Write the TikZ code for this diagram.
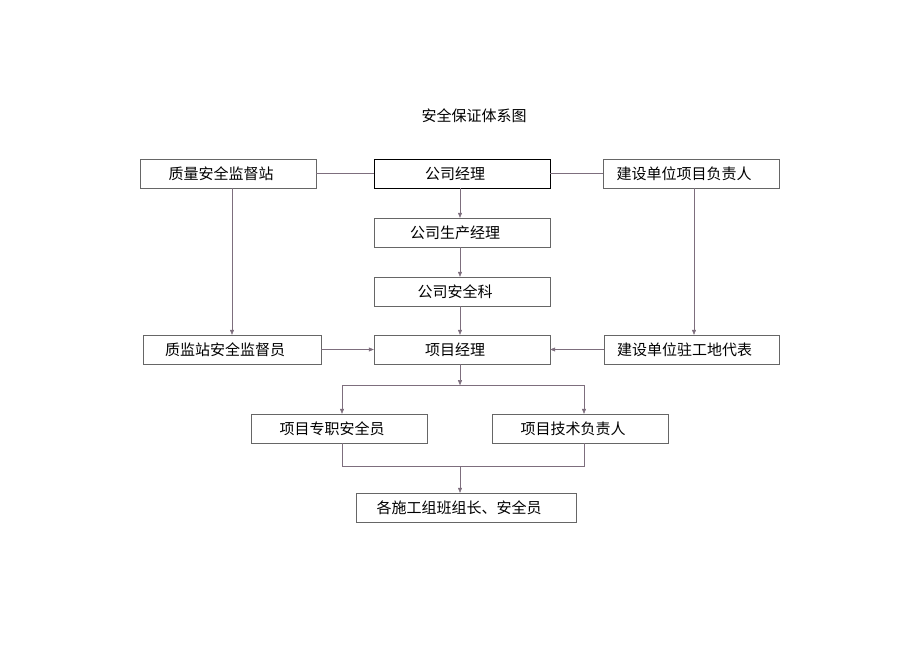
\documentclass[tikz,border=0pt]{standalone}
\usepackage{fontspec}
\newfontfamily\cjk{Noto Sans CJK SC}
\usetikzlibrary{arrows.meta}
\definecolor{linegray}{RGB}{125,110,125}
\begin{document}
\begin{tikzpicture}
    [x=1pt, y=-1pt,
    font=\cjk\fontsize{15}{17}\selectfont,
    box/.style={draw=gray!80!black, minimum width=176pt, minimum height=29pt,
      inner sep=0pt, execute at begin node=\hspace*{-14pt}},
    link/.style={draw=linegray, line width=0.5pt},
    arr/.style={link, -{Triangle[length=5pt,width=4pt]}},
    ]
    \useasboundingbox (0,0) rectangle (920,651);
    \node (title) at (474,116) {安全保证体系图};
    \node[box] (zljd) at (228,173.5) {质量安全监督站};
    \node[box, draw=black, thick] (gsjl) at (462,173.5) {公司经理};
    \node[box] (jsfz) at (691,173.5) {建设单位项目负责人};
    \node[box] (scjl) at (462,232.5) {公司生产经理};
    \node[box] (aqk) at (462,291.5) {公司安全科};
    \node[box, minimum width=178pt] (jdy) at (232,349.5) {质监站安全监督员};
    \node[box] (xmjl) at (462,349.5) {项目经理};
    \node[box, minimum width=175pt] (zgd) at (691.5,349.5) {建设单位驻工地代表};
    \node[box] (zzaq) at (339,428.5) {项目专职安全员};
    \node[box] (jsfzr) at (580,428.5) {项目技术负责人};
    \node[box, minimum width=220pt] (bzz) at (466,507.5) {各施工组班组长、安全员};
    % top row
    \draw[link] (zljd) -- (gsjl);
    \draw[link] (gsjl) -- (jsfz);
    \draw[arr] (jdy.north |- zljd.south) -- (jdy.north);
    \draw[arr] ([xshift=3pt]jsfz.south) -- ([xshift=3pt]jsfz.south |- zgd.north);
    % middle column
    \draw[arr] ([xshift=-2pt]gsjl.south) -- ([xshift=-2pt]scjl.north);
    \draw[arr] ([xshift=-2pt]scjl.south) -- ([xshift=-2pt]aqk.north);
    \draw[arr] ([xshift=-2pt]aqk.south) -- ([xshift=-2pt]xmjl.north);
    \draw[arr] (jdy) -- (xmjl);
    \draw[arr] (zgd) -- (xmjl);
    % branches
    \coordinate (fork) at ([xshift=-2pt,yshift=-21pt]xmjl.south);
    \draw[arr] ([xshift=-2pt]xmjl.south) -- (fork);
    \draw[arr] (fork) -| ([xshift=3pt]zzaq.north);
    \draw[arr] (fork) -| ([xshift=4pt]jsfzr.north);
    \coordinate (join) at ([yshift=-23pt]fork |- zzaq.south);
    \draw[link] ([xshift=3pt]zzaq.south) |- (join) -| ([xshift=4pt]jsfzr.south);
    \draw[arr] (join) -- (join |- bzz.north);
\end{tikzpicture}
\end{document}
